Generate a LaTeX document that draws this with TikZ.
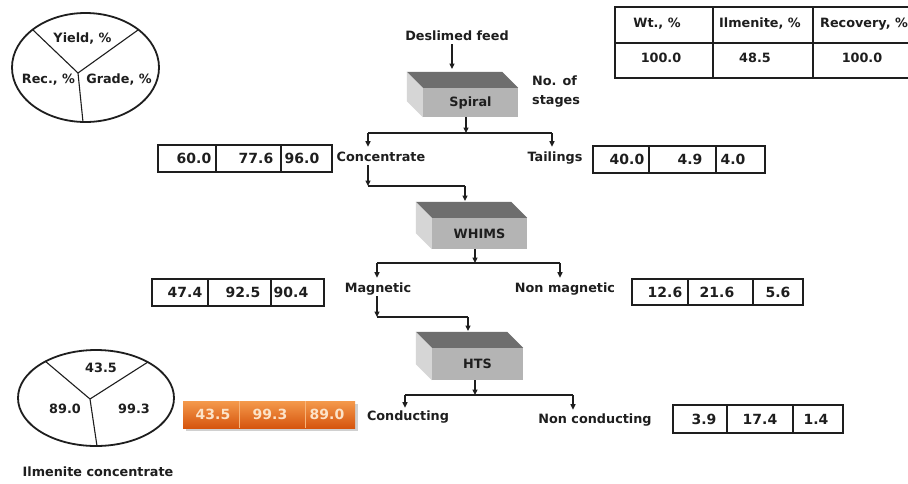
\documentclass[tikz,border=0pt]{standalone}
\usepackage{fontspec}
\setmainfont{DejaVu Sans}
\usetikzlibrary{arrows.meta,calc}

\definecolor{ink}{HTML}{1E1E1E}
\definecolor{slabtop}{HTML}{6E6E6E}
\definecolor{slabfront}{HTML}{B4B4B4}
\definecolor{slabside}{HTML}{D6D6D6}
\definecolor{orangetop}{HTML}{F49A4C}
\definecolor{orangebot}{HTML}{D6550E}
\definecolor{orangeline}{HTML}{F7B47A}
\definecolor{orangeink}{HTML}{FCE3C8}

\newcommand\labfont{\fontsize{12.8pt}{19pt}\selectfont\bfseries}
\newcommand\numfont{\fontsize{14pt}{16pt}\selectfont\bfseries}

% top and left faces of a process slab, drawn around its front face node
\newcommand\slabfaces[2]{%
  \fill[slabtop] (#1.north west) -- ++(-#2,-#2) -- ($(#1.north east)+(-#2,-#2)$) -- (#1.north east) -- cycle;
  \fill[slabside] (#1.north west) -- ++(-#2,-#2) -- ($(#1.south west)+(-#2,-#2)$) -- (#1.south west) -- cycle;
}

\tikzset{
  txt/.style={font=\labfont, text=ink, inner sep=1pt, text height=9.5pt, text depth=2.7pt},
  num/.style={font=\numfont, text=ink, inner sep=0pt},
  slab/.style={fill=slabfront, font=\labfont, text=ink, inner sep=0pt},
  wire/.style={draw=ink, line width=1.1pt},
  arr/.style={draw=ink, line width=1.1pt, -{Triangle[length=5.5pt,width=5pt]}},
  boxline/.style={draw=ink, line width=2pt},
  gridline/.style={draw=ink, line width=1.3pt},
  rim/.style={draw=ink, line width=1.8pt},
  spoke/.style={draw=ink, line width=1.1pt},
}

\begin{document}
\begin{tikzpicture}[x=1pt,y=-1pt]
\useasboundingbox (0,0) rectangle (908,483);
\fill[white] (0,0) rectangle (908,483);

% ---- legend ellipse: yield / recovery / grade
\coordinate (lgc) at (85.5,67.5);
\draw[rim] (lgc) ellipse [x radius=73.5pt, y radius=54.5pt];
\coordinate (lgj) at (78,73);
\coordinate (lga) at (33,30);
\coordinate (lgb) at (138,30);
\coordinate (lgd) at (83,122);
\draw[spoke] (lgj) -- (lga) (lgj) -- (lgb) (lgj) -- (lgd);
\node[txt] (lgyield) at (82.5,39) {Yield, \%};
\node[txt] (lgrec) at (48.5,80) {Rec., \%};
\node[txt] (lggrade) at (119,80) {Grade, \%};

% ---- feed table
\begin{scope}
\clip (0,0) rectangle (908,483);
\draw[gridline] (615,7) rectangle (918,78);
\draw[gridline] (615,43) -- (918,43) (713,7) -- (713,78) (813,7) -- (813,78);
\node[txt] (twt) at (657,24) {Wt., \%};
\node[txt] (tilm) at (760,24) {Ilmenite, \%};
\node[txt, anchor=west] (trec) at (819,24) {Recovery, \%};
\node[txt] (twtv) at (661,59) {100.0};
\node[txt] (tilmv) at (755,59) {48.5};
\node[txt] (trecv) at (862,59) {100.0};
\end{scope}

% ---- spiral stage
\node[txt] (feed) at (457,37) {Deslimed feed};
\node[slab, minimum width=95pt, minimum height=29pt] (spiral) at (470.5,102.5) {Spiral};
\slabfaces{spiral}{16}
\node[txt, align=left, anchor=west, text height=, text depth=] (stages) at (531,92) {No. of\\stages};
\coordinate (feedin) at (452,69);
\draw[arr] (feed.south -| feedin) -- (feedin);

\coordinate (sbus) at (466,133);
\coordinate (sbusl) at (368,133);
\coordinate (sbusr) at (552,133);
\draw[arr] (spiral.south -| sbus) -- (sbus);
\draw[wire] (sbusl) -- (sbusr);
\node[txt] (conc) at (381,158) {Concentrate};
\node[txt] (tail) at (555,158) {Tailings};
\draw[arr, shorten >=4pt] (sbusl) -- (sbusl |- conc.north);
\draw[arr, shorten >=4pt] (sbusr) -- (sbusr |- tail.north);

% ---- WHIMS stage
\coordinate (cbus) at (368,186);
\coordinate (cbusr) at (465,186);
\draw[arr] (conc.south -| cbus) -- (cbus);
\draw[wire] (cbus) -- (cbusr);
\node[slab, minimum width=95pt, minimum height=31pt] (whims) at (479.5,233.5) {WHIMS};
\slabfaces{whims}{16}
\coordinate (whimsin) at (465,201);
\draw[arr] (cbusr) -- (whimsin);

\coordinate (wbus) at (475,263);
\coordinate (wbusl) at (377,263);
\coordinate (wbusr) at (560,263);
\draw[arr] (whims.south -| wbus) -- (wbus);
\draw[wire] (wbusl) -- (wbusr);
\node[txt] (mag) at (378,289) {Magnetic};
\node[txt] (nonmag) at (565,289) {Non magnetic};
\draw[arr, shorten >=4pt] (wbusl) -- (wbusl |- mag.north);
\draw[arr, shorten >=4pt] (wbusr) -- (wbusr |- nonmag.north);

% ---- HTS stage
\coordinate (mbus) at (377,317);
\coordinate (mbusr) at (468,317);
\draw[arr] (mag.south -| mbus) -- (mbus);
\draw[wire] (mbus) -- (mbusr);
\node[slab, minimum width=91pt, minimum height=32pt] (hts) at (477.5,364) {HTS};
\slabfaces{hts}{16}
\coordinate (htsin) at (468,331);
\draw[arr] (mbusr) -- (htsin);

\coordinate (hbus) at (475,395);
\coordinate (hbusl) at (405,395);
\coordinate (hbusr) at (573,395);
\draw[arr] (hts.south -| hbus) -- (hbus);
\draw[wire] (hbusl) -- (hbusr);
\node[txt] (cond) at (408,417) {Conducting};
\node[txt] (noncond) at (595,420) {Non conducting};
\draw[arr, shorten >=2pt] (hbusl) -- (hbusl |- cond.north);
\draw[arr, shorten >=3pt] (hbusr) -- (hbusr |- noncond.north);

% ---- product balances
\draw[boxline] (158,145) rectangle (332,172) (216,145) -- (216,172) (281,145) -- (281,172);
\node[num] (ca) at (194,158.5) {60.0};
\node[num] (cb) at (256,158.5) {77.6};
\node[num] (cc) at (302,158.5) {96.0};

\draw[boxline] (593,146) rectangle (765,173) (649,146) -- (649,173) (716,146) -- (716,173);
\node[num] (ta) at (627,159.5) {40.0};
\node[num] (tb) at (690,159.5) {4.9};
\node[num] (tc) at (733,159.5) {4.0};

\draw[boxline] (152,279) rectangle (324,306) (208,279) -- (208,306) (271,279) -- (271,306);
\node[num] (ma) at (185,292.5) {47.4};
\node[num] (mb) at (243,292.5) {92.5};
\node[num] (mc) at (291,292.5) {90.4};

\draw[boxline] (632,279) rectangle (803,305) (688,279) -- (688,305) (753,279) -- (753,305);
\node[num] (na) at (665,292) {12.6};
\node[num] (nb) at (717,292) {21.6};
\node[num] (nc) at (778,292) {5.6};

\fill[black!30, opacity=0.6] (186,404) rectangle (358,431);
\shade[top color=orangetop, bottom color=orangebot] (183,401) rectangle (355,428);
\draw[orangeline, line width=1pt] (239,401) -- (239,428) (305,401) -- (305,428);
\node[num, text=orangeink] (oa) at (213,414.5) {43.5};
\node[num, text=orangeink] (ob) at (270,414.5) {99.3};
\node[num, text=orangeink] (oc) at (327,414.5) {89.0};

\draw[boxline] (673,405) rectangle (843,433) (727,405) -- (727,433) (793,405) -- (793,433);
\node[num] (fa) at (704,419) {3.9};
\node[num] (fb) at (760,419) {17.4};
\node[num] (fc) at (816,419) {1.4};

% ---- ilmenite concentrate ellipse
\coordinate (ilc) at (96,398);
\draw[rim] (ilc) ellipse [x radius=78pt, y radius=48pt];
\coordinate (ilj) at (90,399);
\coordinate (ila) at (45,361);
\coordinate (ilb) at (148,362);
\coordinate (ild) at (97,446);
\draw[spoke] (ilj) -- (ila) (ilj) -- (ilb) (ilj) -- (ild);
\node[txt] (ilyield) at (101,369) {43.5};
\node[txt] (ilrec) at (65,410) {89.0};
\node[txt] (ilgrade) at (134,410) {99.3};
\node[txt] (ilcap) at (98,473) {Ilmenite concentrate};
\end{tikzpicture}
\end{document}
